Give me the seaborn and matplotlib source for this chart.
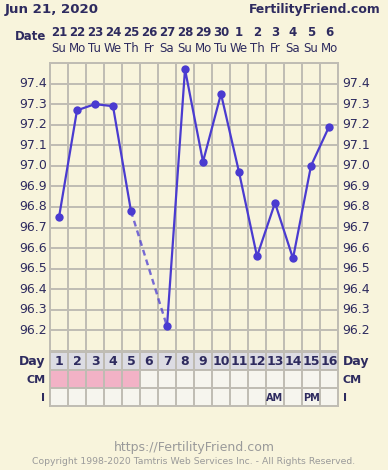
import matplotlib
matplotlib.use("Agg")
import matplotlib.pyplot as plt
import numpy as np
import pandas as pd
import seaborn as sns
from matplotlib.colors import ListedColormap

# chart data
cycle_days = list(range(1, 17))
dates = ["21", "22", "23", "24", "25", "26", "27", "28", "29", "30", "1", "2", "3", "4", "5", "6"]
weekdays = ["Su", "Mo", "Tu", "We", "Th", "Fr", "Sa", "Su", "Mo", "Tu", "We", "Th", "Fr", "Sa", "Su", "Mo"]
temps = [96.75, 97.27, 97.30, 97.29, 96.78, None, 96.22, 97.47, 97.02, 97.35,
         96.97, 96.56, 96.82, 96.55, 97.00, 97.19]
cm_codes = [1, 1, 1, 1, 1, 0, 0, 0, 0, 0, 0, 0, 0, 0, 0, 0]
intercourse = ["", "", "", "", "", "", "", "", "", "", "", "", "AM", "", "PM", ""]
y_ticks = [96.2, 96.3, 96.4, 96.5, 96.6, 96.7, 96.8, 96.9, 97.0, 97.1, 97.2, 97.3, 97.4]

BG = "#f8f4dc"
INK = "#2e2b5f"
LINE = "#4a3bd0"
GRID = "#bfbcb3"

sns.set_theme(style="white")
plt.rcParams["font.family"] = ["DejaVu Sans"]

W, H = 388, 470
fig = plt.figure(figsize=(W / 100, H / 100), dpi=100, facecolor=BG)

def fx(px):
    return px / W

def fy(py):
    return 1 - py / H

df = pd.DataFrame({"day": cycle_days, "temp": temps})

# main temperature chart
ax = fig.add_axes([fx(50), fy(351), fx(288), 288 / H])
ax.set_facecolor(BG)
seg1 = df[(df.day <= 5)]
seg2 = df[(df.day >= 7)]
gap = df[df.day.isin([5, 7])]
sns.lineplot(data=gap, x="day", y="temp", ax=ax, color=LINE, alpha=0.75,
             linestyle=(0, (2.5, 1.8)), linewidth=1.7)
for seg in (seg1, seg2):
    sns.lineplot(data=seg, x="day", y="temp", ax=ax, color=LINE, linewidth=1.6,
                 marker="o", markersize=6, markeredgewidth=0)

ax.set_xlim(0.5, 16.5)
ax.set_ylim(96.1, 97.5)
ax.set_xticks(np.arange(0.5, 17, 1))
ax.set_xticklabels([])
ax.set_yticks(np.arange(96.1, 97.55, 0.1))
ax.grid(True, color=GRID, linewidth=1.4)
ax.tick_params(length=0)
ax.set_yticklabels([])
ax.set_xlabel("")
ax.set_ylabel("")
for s in ax.spines.values():
    s.set_color(GRID)
    s.set_linewidth(1.4)
ax.spines["bottom"].set_visible(False)
for t in y_ticks:
    ax.text(-0.01, t, f"{t:.1f}", transform=ax.get_yaxis_transform(), ha="right",
            va="center", fontsize=9, color=INK)
    ax.text(1.015, t, f"{t:.1f}", transform=ax.get_yaxis_transform(), ha="left",
            va="center", fontsize=9, color=INK)

# bottom rows: Day / CM / I
tab = fig.add_axes([fx(50), fy(406), fx(288), 54 / H])
codes = np.array([[2] * 16, cm_codes, [0] * 16])
cmap = ListedColormap(["#f6f5ee", "#f2b2c6", "#dcdce3"])
sns.heatmap(codes, ax=tab, cmap=cmap, vmin=0, vmax=2, cbar=False,
            linewidths=0, xticklabels=False, yticklabels=False)
for xv in range(1, 16):
    tab.axvline(xv, color=GRID, linewidth=1.4)
for yv in range(1, 3):
    tab.axhline(yv, color=GRID, linewidth=1.4)
for s in tab.spines.values():
    s.set_visible(True)
    s.set_color(GRID)
    s.set_linewidth(1.4)
for i, d in enumerate(cycle_days):
    tab.text(i + 0.5, 0.55, str(d), ha="center", va="center", fontsize=9,
             fontweight="bold", color=INK)
    if intercourse[i]:
        tab.text(i + 0.5, 2.55, intercourse[i], ha="center", va="center", fontsize=7,
                 fontweight="bold", color=INK)
for r, lab in enumerate(["Day", "CM", "I"]):
    tab.text(-0.25, r + 0.55, lab, ha="right", va="center", fontsize=9 if r == 0 else 8,
             fontweight="bold", color=INK)
    tab.text(16.25, r + 0.55, lab, ha="left", va="center", fontsize=9 if r == 0 else 8,
             fontweight="bold", color=INK)

# header
fig.text(fx(5), fy(9), "Jun 21, 2020", fontsize=9.6, fontweight="bold", color=INK,
         ha="left", va="center")
fig.text(fx(381), fy(9), "FertilityFriend.com", fontsize=8.9, fontweight="bold",
         color=INK, ha="right", va="center")
fig.text(fx(46), fy(36), "Date", fontsize=8.5, fontweight="bold", color=INK,
         ha="right", va="center")
for i in range(16):
    x = fx(50 + 18 * i + 9)
    fig.text(x, fy(32), dates[i], fontsize=8.5, fontweight="bold", color=INK,
             ha="center", va="center")
    fig.text(x, fy(49), weekdays[i], fontsize=8.5, color=INK, ha="center", va="center")

# footer
fig.text(0.5, fy(448), "https://FertilityFriend.com", fontsize=9, color="#9a9a9a",
         ha="center", va="center")
fig.text(0.5, fy(461), "Copyright 1998-2020 Tamtris Web Services Inc. - All Rights Reserved.",
         fontsize=6.7, color="#9a9a9a", ha="center", va="center")

fig.savefig("out.png", dpi=100, facecolor=BG)
